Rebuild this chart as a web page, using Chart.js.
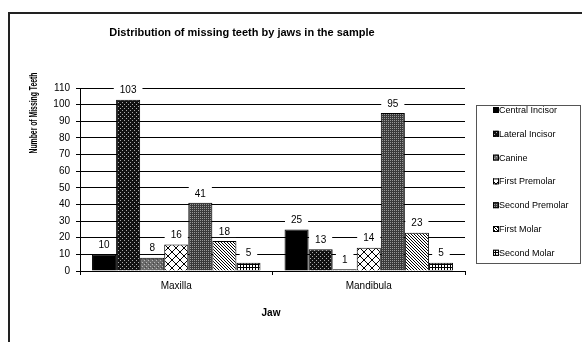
<!DOCTYPE html>
<html>
<head>
<meta charset="utf-8">
<script src="https://cdn.jsdelivr.net/npm/chart.js@4"></script>
<style>
  html, body { margin: 0; padding: 0; background: #fff; }
  #wrap { width: 582px; height: 342px; position: relative; }
</style>
</head>
<body>
<div id="wrap"><canvas id="teethChart"></canvas></div>
<script>
// Chart data
const jaws = ["Maxilla", "Mandibula"];
const toothTypes = ["Central Incisor", "Lateral Incisor", "Canine", "First Premolar", "Second Premolar", "First Molar", "Second Molar"];
const centralIncisor = [10, 25];
const lateralIncisor = [103, 13];
const canine = [8, 1];
const firstPremolar = [16, 14];
const secondPremolar = [41, 95];
const firstMolar = [18, 23];
const secondMolar = [5, 5];
const yTicks = [0, 10, 20, 30, 40, 50, 60, 70, 80, 90, 100, 110];

const FONT = "'Liberation Sans', Arial, sans-serif";

// Build small fill patterns like the old Excel bar fills
function makePattern(kind) {
    const c = document.createElement("canvas");
    const size = kind === "cross" ? 8 : 4;
    c.width = size; c.height = size;
    const g = c.getContext("2d");
    if (kind === "darkDots") {
        g.fillStyle = "#111"; g.fillRect(0, 0, 4, 4);
        g.fillStyle = "#aaa"; g.fillRect(0, 0, 1, 1); g.fillRect(2, 2, 1, 1);
    } else if (kind === "grayDots") {
        g.fillStyle = "#6a6a6a"; g.fillRect(0, 0, 4, 4);
        g.fillStyle = "#b8b8b8"; g.fillRect(0, 0, 1, 1); g.fillRect(2, 2, 1, 1);
        g.fillStyle = "#444"; g.fillRect(1, 3, 1, 1);
    } else if (kind === "cross") {
        g.fillStyle = "#fff"; g.fillRect(0, 0, 8, 8);
        g.strokeStyle = "#000"; g.lineWidth = 1;
        g.beginPath();
        g.moveTo(0, 0); g.lineTo(8, 8);
        g.moveTo(8, 0); g.lineTo(0, 8);
        g.stroke();
    } else if (kind === "medDots") {
        g.fillStyle = "#3a3a3a"; g.fillRect(0, 0, 4, 4);
        g.fillStyle = "#999"; g.fillRect(0, 0, 1, 1); g.fillRect(2, 2, 1, 1);
        g.fillRect(2, 0, 1, 1); g.fillRect(0, 2, 1, 1);
    } else if (kind === "diag") {
        c.width = 3; c.height = 3;
        g.fillStyle = "#fff"; g.fillRect(0, 0, 3, 3);
        g.fillStyle = "#000";
        for (let i = 0; i < 3; i++) g.fillRect(i, i, 1, 1);
    } else if (kind === "grid") {
        c.width = 3; c.height = 3;
        g.fillStyle = "#fff"; g.fillRect(0, 0, 3, 3);
        g.fillStyle = "#000"; g.fillRect(0, 0, 3, 1); g.fillRect(0, 0, 1, 3);
    }
    return g.createPattern(c, "repeat");
}

const fills = [
    "#000",
    makePattern("darkDots"),
    makePattern("grayDots"),
    makePattern("cross"),
    makePattern("medDots"),
    makePattern("diag"),
    makePattern("grid")
];
const seriesValues = [centralIncisor, lateralIncisor, canine, firstPremolar, secondPremolar, firstMolar, secondMolar];

// Frame, titles, value labels and the boxed legend
const decorations = {
    id: "decorations",
    beforeDraw(chart) {
        const ctx = chart.ctx;
        ctx.save();
        ctx.fillStyle = "#fff";
        ctx.fillRect(0, 0, chart.width, chart.height);
        ctx.strokeStyle = "#222";
        ctx.lineWidth = 2;
        ctx.strokeRect(9, 13, 600, 400);
        ctx.restore();
    },
    afterDatasetsDraw(chart) {
        const ctx = chart.ctx;
        ctx.save();
        ctx.font = "10px " + FONT;
        ctx.textAlign = "center";
        ctx.textBaseline = "middle";
        chart.data.datasets.forEach((ds, i) => {
            chart.getDatasetMeta(i).data.forEach((bar, j) => {
                const txt = String(ds.data[j]);
                const w = ctx.measureText(txt).width + 12;
                const y = bar.y - 10;
                ctx.fillStyle = "#fff";
                ctx.fillRect(bar.x - w / 2, y - 6, w, 12);
                ctx.fillStyle = "#000";
                ctx.fillText(txt, bar.x, y + 1);
            });
        });
        ctx.restore();
    },
    afterDraw(chart) {
        const ctx = chart.ctx;
        ctx.save();
        ctx.fillStyle = "#000";
        ctx.textAlign = "center";
        ctx.textBaseline = "middle";
        ctx.font = "bold 11px " + FONT;
        ctx.fillText("Distribution of missing teeth by jaws in the sample", 242, 33);
        ctx.font = "bold 10px " + FONT;
        ctx.fillText("Jaw", 271, 313);
        ctx.save();
        ctx.translate(34, 113);
        ctx.rotate(-Math.PI / 2);
        ctx.scale(0.62, 1);
        ctx.font = "bold 11px " + FONT;
        ctx.fillText("Number of Missing Teeth", 0, 0);
        ctx.restore();

        // legend box
        ctx.strokeStyle = "#555";
        ctx.lineWidth = 1;
        ctx.strokeRect(476.5, 105.5, 104, 158);
        ctx.font = "9px " + FONT;
        ctx.textAlign = "left";
        chart.data.datasets.forEach((ds, i) => {
            const y = 110 + i * 23.8;
            ctx.fillStyle = ds.backgroundColor;
            ctx.fillRect(493, y - 3, 6, 6);
            ctx.strokeStyle = "#000";
            ctx.strokeRect(493.5, y - 2.5, 5, 5);
            ctx.fillStyle = "#000";
            ctx.fillText(ds.label, 499, y + 0.5);
        });
        ctx.restore();
    }
};

const ctxTeeth = document.getElementById("teethChart").getContext("2d");
const teethChart = new Chart(ctxTeeth, {
    type: "bar",
    data: {
        labels: jaws,
        datasets: toothTypes.map((name, i) => ({
            label: name,
            data: seriesValues[i],
            backgroundColor: fills[i],
            borderColor: "#000",
            borderWidth: 1,
            categoryPercentage: 0.875,
            barPercentage: 1
        }))
    },
    options: {
        responsive: true,
        maintainAspectRatio: false,
        animation: false,
        layout: { padding: { left: 0, top: 88, right: 117, bottom: 0 } },
        scales: {
            x: {
                grid: { display: true, drawOnChartArea: false, offset: true, color: "#000", tickLength: 4 },
                border: { color: "#000" },
                ticks: { color: "#000", font: { family: FONT, size: 10 }, padding: 5 },
                afterFit: (s) => { s.height = 71; }
            },
            y: {
                min: 0,
                max: 110,
                afterBuildTicks: (s) => { s.ticks = yTicks.map(v => ({ value: v })); },
                grid: { color: "#000", tickLength: 4 },
                border: { color: "#000" },
                ticks: { color: "#000", font: { family: FONT, size: 10 }, padding: 6 },
                afterFit: (s) => { s.width = 80; }
            }
        },
        plugins: {
            legend: { display: false },
            tooltip: { enabled: false }
        }
    },
    plugins: [decorations]
});
</script>
</body>
</html>
